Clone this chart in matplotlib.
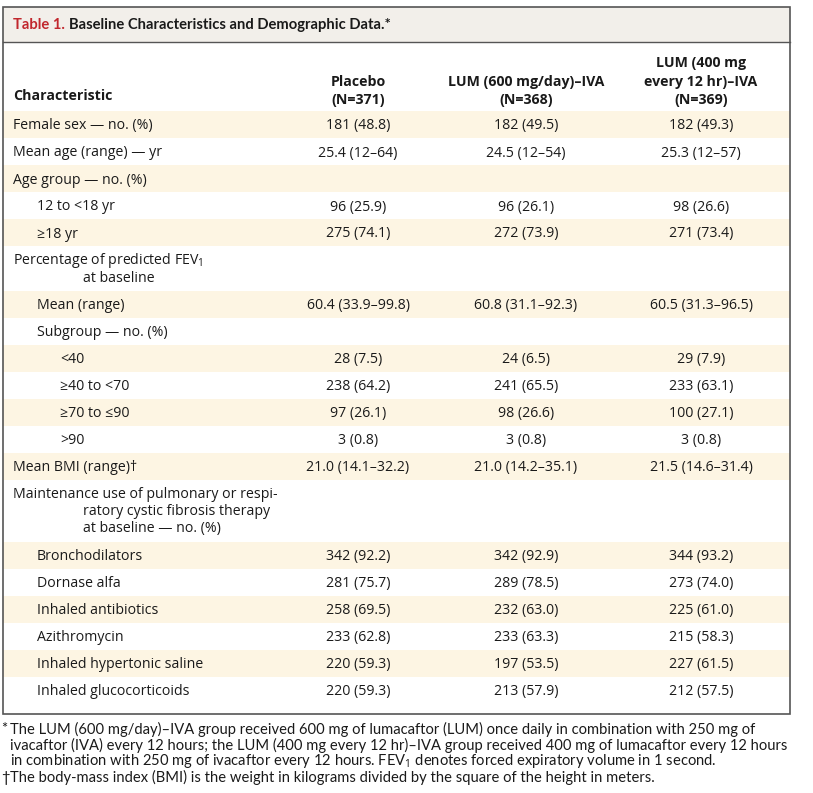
import matplotlib
matplotlib.use("Agg")
import matplotlib.pyplot as plt
from matplotlib.patches import Rectangle

plt.rcParams['font.family'] = ['Open Sans', 'DejaVu Sans']
plt.rcParams['mathtext.fontset'] = 'custom'
plt.rcParams['mathtext.rm'] = 'Open Sans'
plt.rcParams['mathtext.it'] = 'Open Sans'

title_red = "Table 1."
title_rest = "Baseline Characteristics and Demographic Data.*"

col_heads = ["Placebo\n(N=371)", "LUM (600 mg/day)–IVA\n(N=368)",
             "LUM (400 mg\nevery 12 hr)–IVA\n(N=369)"]

labels = ["Female sex — no. (%)", "Mean age (range) — yr", "Age group — no. (%)",
          "12 to <18 yr", "≥18 yr",
          "Percentage of predicted FEV$_1$\nat baseline",
          "Mean (range)", "Subgroup — no. (%)", "<40", "≥40 to <70", "≥70 to ≤90", ">90",
          "Mean BMI (range)†",
          "Maintenance use of pulmonary or respi-\nratory cystic fibrosis therapy\nat baseline — no. (%)",
          "Bronchodilators", "Dornase alfa", "Inhaled antibiotics", "Azithromycin",
          "Inhaled hypertonic saline", "Inhaled glucocorticoids"]
indent = [0, 0, 0, 1, 1, 0, 1, 1, 2, 2, 2, 2, 0, 0, 1, 1, 1, 1, 1, 1]

placebo = ["181 (48.8)", "25.4 (12–64)", "", "96 (25.9)", "275 (74.1)", "",
           "60.4 (33.9–99.8)", "", "28 (7.5)", "238 (64.2)", "97 (26.1)", "3 (0.8)",
           "21.0 (14.1–32.2)", "", "342 (92.2)", "281 (75.7)", "258 (69.5)",
           "233 (62.8)", "220 (59.3)", "220 (59.3)"]
lum600 = ["182 (49.5)", "24.5 (12–54)", "", "96 (26.1)", "272 (73.9)", "",
          "60.8 (31.1–92.3)", "", "24 (6.5)", "241 (65.5)", "98 (26.6)", "3 (0.8)",
          "21.0 (14.2–35.1)", "", "342 (92.9)", "289 (78.5)", "232 (63.0)",
          "233 (63.3)", "197 (53.5)", "213 (57.9)"]
lum400 = ["182 (49.3)", "25.3 (12–57)", "", "98 (26.6)", "271 (73.4)", "",
          "60.5 (31.3–96.5)", "", "29 (7.9)", "233 (63.1)", "100 (27.1)", "3 (0.8)",
          "21.5 (14.6–31.4)", "", "344 (93.2)", "273 (74.0)", "225 (61.0)",
          "215 (58.3)", "227 (61.5)", "212 (57.5)"]

footnotes = [
    ("*", "The LUM (600 mg/day)–IVA group received 600 mg of lumacaftor (LUM) once daily in combination with 250 mg of\n"
          "ivacaftor (IVA) every 12 hours; the LUM (400 mg every 12 hr)–IVA group received 400 mg of lumacaftor every 12 hours\n"
          "in combination with 250 mg of ivacaftor every 12 hours. FEV$_1$ denotes forced expiratory volume in 1 second."),
    ("†", "The body-mass index (BMI) is the weight in kilograms divided by the square of the height in meters."),
]

W, H = 813, 793
fig = plt.figure(figsize=(W / 100, H / 100), dpi=100)
ax = fig.add_axes([0, 0, 1, 1])
ax.set_xlim(0, W)
ax.set_ylim(H, 0)
ax.axis('off')

left, right, top, bottom = 2.5, 790, 6.5, 714
title_h = 35
fs = 10.2
ink = "#1a1a1a"
shade = "#fdf5e3"
col_x = [358, 526, 701]

# title bar
ax.add_patch(Rectangle((left, top), right - left, title_h, facecolor="#f2efea", edgecolor="none"))
ax.plot([left, right], [top + title_h, top + title_h], color="#555555", lw=1)
t1 = ax.text(13, top + title_h / 2 + 1, title_red + " ", color="#c1272d", fontsize=10.6,
             fontweight='bold', va='center', ha='left', family=['Lato', 'DejaVu Sans'])
fig.canvas.draw()
bb = t1.get_window_extent()
ax.text(13 + bb.width, top + title_h / 2 + 1, title_rest, color=ink, fontsize=10.6,
        fontweight='bold', va='center', ha='left', family=['Lato', 'DejaVu Sans'])

# header
head_bottom = 111
ax.text(13, 96, "Characteristic", fontsize=fs, fontweight='bold', va='center', color=ink)
for x, h in zip(col_x, col_heads):
    ax.text(x, 107, h, fontsize=fs, fontweight='bold', ha='center', va='bottom',
            linespacing=1.4, color=ink)

# body rows, every other one shaded
line_h = 17.2
y = head_bottom
for i, lab in enumerate(labels):
    parts = lab.split("\n")
    rh = 27 + (len(parts) - 1) * 17.5
    if i % 2 == 0:
        ax.add_patch(Rectangle((left, y), right - left, rh, facecolor=shade, edgecolor="none"))
    x0 = 13 + 23.5 * indent[i]
    for k, p in enumerate(parts):
        xx = x0 if k == 0 else x0 + 70   # hanging indent
        ax.text(xx, y + 15 + k * line_h, p, fontsize=fs, va='center', ha='left', color=ink)
    for x, vals in zip(col_x, [placebo, lum600, lum400]):
        if vals[i]:
            ax.text(x, y + 15, vals[i], fontsize=fs, va='center', ha='center', color=ink)
    y += rh

# box border
ax.add_patch(Rectangle((left, top), right - left, bottom - top, facecolor="none",
                       edgecolor="#555555", lw=1.2))

# footnotes
fy = 729
for mark, txt in footnotes:
    ax.text(1, fy, mark, fontsize=10.6, va='center', ha='left', color=ink,
            family=['Lato', 'DejaVu Sans'])
    for k, line in enumerate(txt.split("\n")):
        ax.text(10, fy + k * 16.2, line, fontsize=10.6, va='center', ha='left',
                color=ink, family=['Lato', 'DejaVu Sans'])
    fy += 16.2 * (txt.count("\n") + 1)

fig.savefig("out.png", dpi=100, facecolor="white")
